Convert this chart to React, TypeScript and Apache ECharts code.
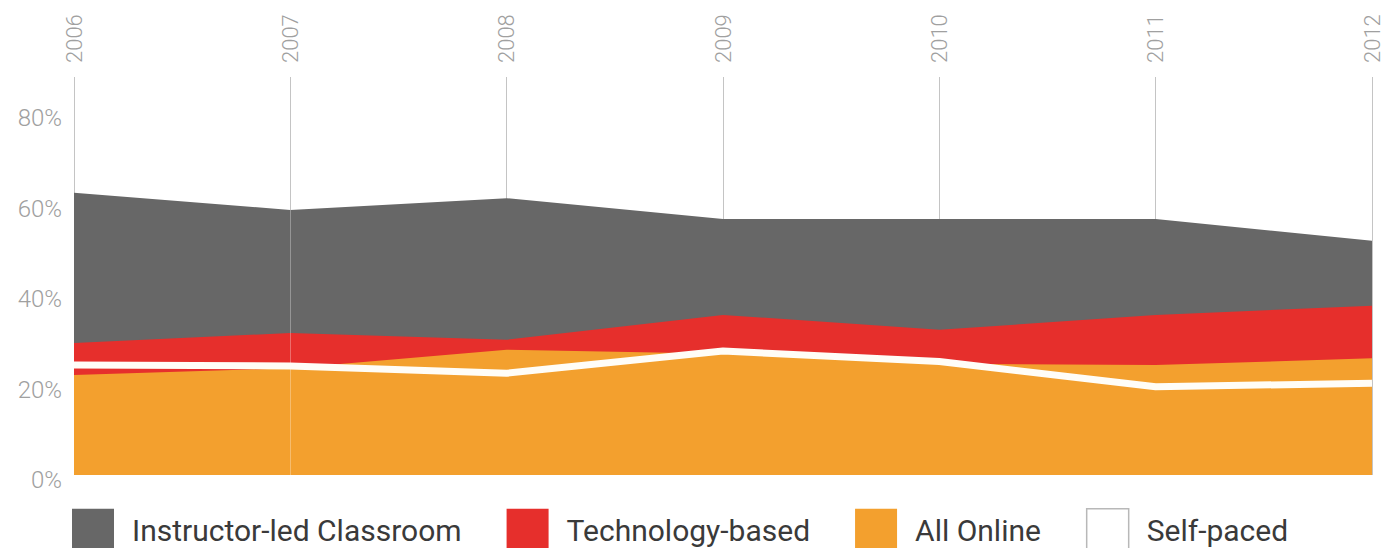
import React, { useEffect, useRef } from "react";
import * as echarts from "echarts";

const years = ["2006", "2007", "2008", "2009", "2010", "2011", "2012"];
const instructorLed = [62.4, 58.6, 61.2, 56.6, 56.6, 56.6, 51.8];
const technologyBased = [29.2, 31.4, 29.9, 35.4, 32.1, 35.4, 37.4];
const allOnline = [22.1, 23.6, 27.7, 26.8, 24.6, 24.3, 25.8];
const selfPaced = [24.3, 24.1, 22.5, 27.4, 25.1, 19.5, 20.3];
const yTicks = [0, 20, 40, 60, 80];

const seriesNames = ["Instructor-led Classroom", "Technology-based", "All Online", "Self-paced"];
const colors = ["#676767", "#e62f2c", "#f3a02e", "#ffffff"];

export default function App() {
  const ref = useRef<HTMLDivElement>(null);

  useEffect(() => {
    if (!ref.current) return;
    document.body.style.margin = "0";
    const chart = echarts.init(ref.current, null, { renderer: "svg" });

    const areaSeries = (name: string, data: number[], color: string, z: number) => ({
      name,
      type: "line",
      data,
      symbol: "none",
      smooth: false,
      color,
      z,
      lineStyle: { width: 0, color },
      itemStyle: { color },
      areaStyle: { color, opacity: 1 },
    });

    chart.setOption({
      animation: false,
      backgroundColor: "#ffffff",
      grid: { left: 74, right: 9, top: 77, bottom: 73 },
      xAxis: {
        type: "category",
        data: years,
        position: "top",
        boundaryGap: false,
        axisLine: { show: false },
        axisTick: { show: false },
        axisLabel: {
          rotate: 90,
          margin: 14,
          fontSize: 22,
          fontFamily: "Roboto",
          fontWeight: 300,
          color: "#a0a0a0",
        },
        splitLine: { show: true, lineStyle: { color: "#c4c4c4", width: 1 } },
      },
      yAxis: {
        type: "value",
        min: 0,
        max: 88,
        interval: 20,
        axisLine: { show: false },
        axisTick: { show: false },
        splitLine: { show: false },
        axisLabel: {
          margin: 12,
          fontSize: 24,
          fontFamily: "Roboto",
          fontWeight: 300,
          color: "#a0a0a0",
          formatter: (v: number) => (yTicks.indexOf(v) >= 0 ? "{v|" + v + "%}" : ""),
          rich: {
            v: {
              fontSize: 24,
              fontFamily: "Roboto",
              fontWeight: 300,
              color: "#a0a0a0",
              padding: [10, 0, 0, 0],
            },
          },
        },
      },
      legend: {
        left: 72,
        top: 508,
        padding: 0,
        itemGap: 45,
        itemWidth: 42,
        itemHeight: 44,
        selectedMode: false,
        textStyle: {
          fontSize: 30,
          fontFamily: "Roboto",
          color: "#3a3a3a",
          padding: [0, 0, 0, 13],
        },
        data: seriesNames.map((n, i) => ({
          name: n,
          icon: "rect",
          itemStyle:
            i === 3
              ? { color: "#ffffff", borderColor: "#b8b8b8", borderWidth: 1.5 }
              : { color: colors[i] },
        })),
      },
      series: [
        areaSeries(seriesNames[0], instructorLed, colors[0], 2),
        areaSeries(seriesNames[1], technologyBased, colors[1], 3),
        areaSeries(seriesNames[2], allOnline, colors[2], 4),
        {
          name: seriesNames[3],
          type: "line",
          data: selfPaced,
          symbol: "none",
          z: 5,
          color: "#ffffff",
          itemStyle: { color: "#ffffff" },
          lineStyle: { color: "#fffdf7", width: 7 },
          markLine: {
            silent: true,
            symbol: ["none", "none"],
            label: { show: false },
            lineStyle: { color: "rgba(255,255,255,0.3)", width: 1, type: "solid" },
            data: [[{ coord: [years[1], 0] }, { coord: [years[1], instructorLed[1]] }]],
          },
        },
      ],
    });

    return () => chart.dispose();
  }, []);

  return (
    <div
      ref={ref}
      style={{ position: "absolute", left: 0, top: 0, width: 1383, height: 548 }}
    />
  );
}
